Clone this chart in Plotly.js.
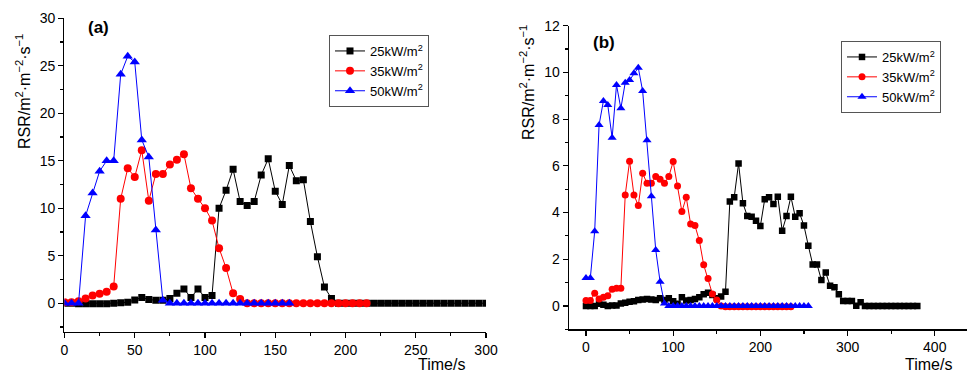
<!DOCTYPE html>
<html>
<head>
<meta charset="utf-8">
<script src="https://cdn.plot.ly/plotly-3.0.1.min.js"></script>
<style>html,body{margin:0;padding:0;background:#fff;}#chart{width:967px;height:374px;}</style>
</head>
<body>
<div id="chart"></div>
<script>
// ---------- Panel (a) data ----------
const timeA25 = [0,5,10,15,20,25,30,35,40,45,50,55,60,65,70,75,80,85,90,95,100,105,110,115,120,125,130,135,140,145,150,155,160,165,170,175,180,185,190,195,200,205,210,215,220,225,230,235,240,245,250,255,260,265,270,275,280,285,290,295,300];
const rsrA25 = [0,0,-0.05,-0.05,-0.05,-0.05,-0.05,0,0.05,0.1,0.35,0.6,0.4,0.3,0.3,0.5,1.05,1.5,0.6,1.5,0.6,0.8,10.0,11.9,14.1,10.7,10.3,10.7,13.5,15.2,11.8,10.4,14.5,12.9,13.0,8.6,4.9,1.7,0.5,0,0,0,0,0,0,0,0,0,0,0,0,0,0,0,0,0,0,0,0,0,0];
const timeA35 = [0,5,10,15,20,25,30,35,40,45,50,55,60,65,70,75,80,85,90,95,100,105,110,115,120,125,130,135,140,145,150,155,160,165,170,175,180,185,190,195,200,205,210,215];
const rsrA35 = [0.1,0.1,0.2,0.5,0.8,1.0,1.2,1.75,11.0,14.2,13.3,16.1,10.8,13.6,13.6,14.6,15.1,15.7,12.1,11.0,10.0,8.7,5.8,3.7,1.05,0.45,0,0,0,0,0,0,0,0,0,0,0,0,0,0,0,0,0,0];
const timeA50 = [0,5,10,15,20,25,30,35,40,45,50,55,60,65,70,75,80,85,90,95,100,105,110,115,120,125,130,135,140,145,150,155,160];
const rsrA50 = [0,0,0,9.2,11.6,13.9,15.0,15.0,24.1,26.0,25.4,17.2,15.4,7.7,0.3,0,0,0,0,0,0,0,0,0,0,0,0,0,0,0,0,0,0];

// ---------- Panel (b) data ----------
const timeB25 = [0,5,10,15,20,25,30,35,40,45,50,55,60,65,70,75,80,85,90,95,100,105,110,115,120,125,130,135,140,145,150,155,160,165,170,175,180,185,190,195,200,205,210,215,220,225,230,235,240,245,250,255,260,265,270,275,280,285,290,295,300,305,310,315,320,325,330,335,340,345,350,355,360,365,370,375,380];
const rsrB25 = [0,0,0,0.09,0.05,0,0.02,0.02,0.1,0.14,0.18,0.2,0.26,0.28,0.3,0.28,0.26,0.33,0.26,0.33,0.2,0.09,0.37,0.23,0.25,0.3,0.37,0.5,0.57,0.47,0.33,0.4,0.61,4.47,4.65,6.1,4.4,3.85,3.82,3.65,3.42,4.57,4.65,4.37,4.68,3.22,3.85,4.68,3.82,3.97,3.44,2.58,1.78,1.78,1.11,1.43,0.86,0.8,0.5,0.21,0.21,0.21,0.01,0.16,0,0,0,0,0,0,0,0,0,0,0,0,0];
const timeB35 = [0,5,10,15,20,25,30,35,40,45,50,55,60,65,70,75,80,85,90,95,100,105,110,115,120,125,130,135,140,145,150,155,160,165,170,175,180,185,190,195,200,205,210,215,220,225,230,235];
const rsrB35 = [0.23,0.23,0.54,0.3,0.37,0.44,0.71,0.76,0.76,4.75,6.2,4.75,4.3,5.68,5.25,5.25,5.54,5.42,5.25,5.54,6.18,5.14,4.04,4.65,3.51,3.44,2.8,1.76,1.17,0.51,0.26,0,-0.03,-0.03,-0.03,-0.03,-0.03,-0.03,-0.03,-0.03,-0.03,-0.03,-0.03,-0.03,-0.03,-0.03,-0.03,-0.03];
const timeB50 = [0,5,10,15,20,25,30,35,40,45,50,55,60,65,70,75,80,85,90,95,100,105,110,115,120,125,130,135,140,145,150,155,160,165,170,175,180,185,190,195,200,205,210,215,220,225,230,235,240,245,250,255];
const rsrB50 = [1.2,1.2,3.2,7.75,8.78,8.6,7.2,9.46,8.46,9.56,9.67,9.96,10.2,9.2,7.1,4.7,2.4,1.04,0.1,0,0,0,0,0,0,0,0,0,0,0,0,0,0,0,0,0,0,0,0,0,0,0,0,0,0,0,0,0,0,0,0,0];

const seriesNames = ['25kW/m<sup>2</sup>','35kW/m<sup>2</sup>','50kW/m<sup>2</sup>'];
const seriesColors = ['#000000','#ff0000','#0000ff'];
const seriesSymbols = ['square','circle','triangle-up'];

function tr(x, y, i, xa, ya, leg, msize) {
  return {
    x: x, y: y, type: 'scatter', mode: 'lines+markers',
    name: seriesNames[i], xaxis: xa, yaxis: ya, legend: leg,
    line: {color: seriesColors[i], width: 1},
    marker: {color: seriesColors[i], symbol: seriesSymbols[i], size: msize[i]}
  };
}
const msA = [7, 8, 9];
const msB = [6.5, 7, 8];
const data = [
  tr(timeA25, rsrA25, 0, 'x', 'y', 'legend', msA),
  tr(timeA35, rsrA35, 1, 'x', 'y', 'legend', msA),
  tr(timeA50, rsrA50, 2, 'x', 'y', 'legend', msA),
  tr(timeB25, rsrB25, 0, 'x2', 'y2', 'legend2', msB),
  tr(timeB35, rsrB35, 1, 'x2', 'y2', 'legend2', msB),
  tr(timeB50, rsrB50, 2, 'x2', 'y2', 'legend2', msB)
];

const FONT = 'Liberation Sans, Arial, sans-serif';
const axBase = {
  showgrid: false, zeroline: false, showline: true, linecolor: '#000', linewidth: 1.3,
  ticks: 'outside', ticklen: 5, tickwidth: 1.2, tickcolor: '#000',
  tickfont: {family: FONT, size: 14, color: '#000'}, mirror: false, fixedrange: true
};
const legBase = {
  bgcolor: '#fff', bordercolor: '#555', borderwidth: 1,
  font: {family: FONT, size: 13, color: '#000'},
  xanchor: 'left', yanchor: 'top', tracegroupgap: 0, itemwidth: 30
};
function ann(text, px, py, size, extra) {
  return Object.assign({text: text, xref: 'paper', yref: 'paper', x: px / 967, y: 1 - py / 374,
    xanchor: 'center', yanchor: 'middle', showarrow: false,
    font: {family: FONT, size: size, color: '#000'}}, extra || {});
}

const layout = {
  width: 967, height: 374,
  margin: {l: 0, r: 0, t: 0, b: 0},
  paper_bgcolor: '#fff', plot_bgcolor: '#fff',
  showlegend: true,
  xaxis: Object.assign({}, axBase, {domain: [0.0667, 0.5026], range: [0, 300], dtick: 50, tick0: 0,
    minor: {dtick: 25, ticks: 'outside', ticklen: 3, tickcolor: '#000', showgrid: false}, anchor: 'y'}),
  yaxis: Object.assign({}, axBase, {domain: [0.1131, 0.951], range: [-3, 30], dtick: 5, tick0: 0,
    minor: {dtick: 2.5, ticks: 'outside', ticklen: 3, tickcolor: '#000', showgrid: false}, anchor: 'x'}),
  xaxis2: Object.assign({}, axBase, {domain: [0.5884, 1.0], range: [-19.5, 437], dtick: 100, tick0: 0,
    minor: {dtick: 50, ticks: 'outside', ticklen: 3, tickcolor: '#000', showgrid: false}, anchor: 'y2'}),
  yaxis2: Object.assign({}, axBase, {domain: [0.1195, 0.9313], range: [-1, 12], dtick: 2, tick0: 0,
    minor: {dtick: 1, ticks: 'outside', ticklen: 3, tickcolor: '#000', showgrid: false}, anchor: 'x2'}),
  legend: Object.assign({}, legBase, {x: 329/967, y: 1 - 35/374}),
  legend2: Object.assign({}, legBase, {x: 841/967, y: 1 - 41/374}),
  annotations: [
    ann('<b>(a)</b>', 98, 28, 17),
    ann('<b>(b)</b>', 604, 42, 17),
    ann('Time/s', 441, 364, 16),
    ann('Time/s', 928, 364, 16),
    ann('RSR/m<sup>2</sup>·m<sup>−2</sup>·s<sup>−1</sup>', 23, 92, 16, {textangle: -90}),
    ann('RSR/m<sup>2</sup>·m<sup>−2</sup>·s<sup>−1</sup>', 527, 83, 16, {textangle: -90})
  ]
};

Plotly.newPlot('chart', data, layout, {displayModeBar: false, staticPlot: true});
</script>
</body>
</html>
